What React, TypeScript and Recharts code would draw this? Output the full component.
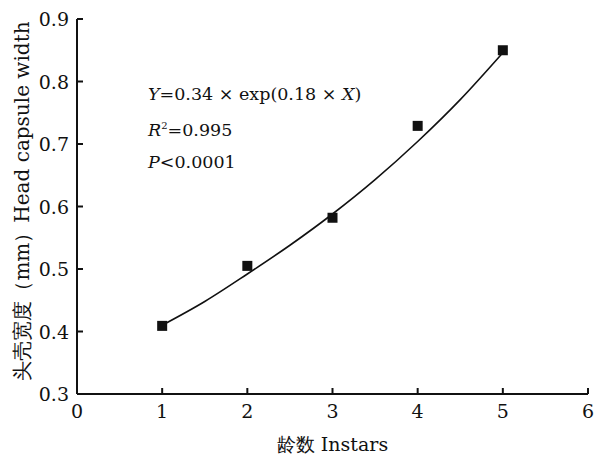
import { ComposedChart, Scatter, Line, XAxis, YAxis } from 'recharts';

const instars = [1, 2, 3, 4, 5];
const headWidth = [0.409, 0.505, 0.582, 0.729, 0.85];

// fitted curve
const fitX = [1, 1.5, 2, 2.5, 3, 3.5, 4, 4.5, 5];
const fitY = [0.41, 0.448, 0.492, 0.538, 0.588, 0.643, 0.704, 0.771, 0.846];

const xTicks = [0, 1, 2, 3, 4, 5, 6];
const yTicks = [0.3, 0.4, 0.5, 0.6, 0.7, 0.8, 0.9];

const points = instars.map((x, i) => ({ x, y: headWidth[i] }));
const fit = fitX.map((x, i) => ({ x, y: fitY[i] }));

const serif = 'DejaVu Serif';

const Square = (props: any) => (
  <rect x={props.cx - 5} y={props.cy - 5} width={10} height={10} fill="#111" />
);

const XTick = ({ x, y, payload }: any) => (
  <text x={x} y={y} dy={14} textAnchor="middle" fill="#111" fontSize={19} style={{ fontFamily: serif }}>
    {payload.value}
  </text>
);

const YTick = ({ x, y, payload }: any) => (
  <text x={x} y={y} dy={7} textAnchor="end" fill="#111" fontSize={19} style={{ fontFamily: serif }}>
    {Number(payload.value).toFixed(1)}
  </text>
);

export default function App() {
  return (
    <div style={{ position: 'absolute', left: 0, top: 0, width: 597, height: 455, background: '#fff', fontFamily: serif }}>
      <ComposedChart
        width={597}
        height={455}
        margin={{ top: 19, right: 9, bottom: 0, left: 0 }}
      >
        <XAxis
          type="number"
          dataKey="x"
          domain={[0, 6]}
          ticks={xTicks}
          height={61}
          stroke="#111"
          strokeWidth={2}
          tickSize={-6}
          tickMargin={16}
          tick={<XTick />}
          label={{ value: '龄数 Instars', position: 'insideBottom', offset: 4, fill: '#111', fontSize: 19, fontFamily: serif }}
        />
        <YAxis
          type="number"
          dataKey="y"
          domain={[0.3, 0.9]}
          ticks={yTicks}
          width={77}
          stroke="#111"
          strokeWidth={2}
          tickSize={-6}
          tickMargin={14}
          tick={<YTick />}
        />
        <Line
          data={fit}
          dataKey="y"
          type="monotone"
          stroke="#111"
          strokeWidth={1.6}
          dot={false}
          isAnimationActive={false}
        />
        <Scatter data={points} dataKey="y" shape={Square} isAnimationActive={false} />
      </ComposedChart>
      <div
        style={{
          position: 'absolute', left: 22, top: 201, width: 440, marginLeft: -220, textAlign: 'center',
          transform: 'translateY(-50%) rotate(-90deg)', fontSize: 20, lineHeight: '22px', color: '#111', whiteSpace: 'nowrap',
        }}
      >
        头壳宽度（mm）Head capsule width
      </div>
      <div style={{ position: 'absolute', left: 148, top: 78, fontSize: 17.5, lineHeight: '32px', color: '#111' }}>
        <div><i>Y</i>=0.34 × exp(0.18 × <i>X</i>)</div>
        <div><i>R</i><sup style={{ fontSize: 10 }}>2</sup>=0.995</div>
        <div><i>P</i>&lt;0.0001</div>
      </div>
    </div>
  );
}
